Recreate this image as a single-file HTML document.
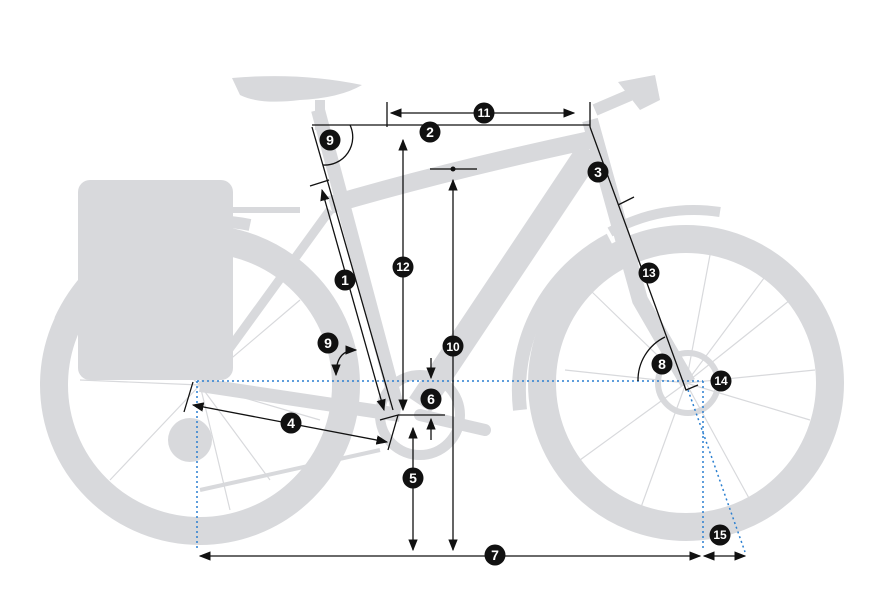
<!DOCTYPE html>
<html><head><meta charset="utf-8"><style>
html,body{margin:0;padding:0;background:#fff;width:886px;height:591px;overflow:hidden}
text{font-family:"Liberation Sans",sans-serif;font-weight:bold;fill:#fff;text-anchor:middle}
</style></head><body>
<svg width="886" height="591" viewBox="0 0 886 591" xmlns="http://www.w3.org/2000/svg">
<defs>
<marker id="a" viewBox="0 0 10 10" refX="9" refY="5" markerWidth="9" markerHeight="9" orient="auto-start-reverse"><path d="M0,1 L10,5 L0,9 z" fill="#111"/></marker>
</defs>
<g fill="none" stroke="#d8d9dc">
 <circle cx="200" cy="385" r="146" stroke-width="28"/>
 <circle cx="686" cy="383" r="144" stroke-width="28"/>
 <path d="M520,410 A170,170 0 0 1 610,240" stroke-width="14"/>
 <path d="M610,232 A170,170 0 0 1 720,212" stroke-width="10"/>
 <path d="M60,320 A170,170 0 0 1 250,225" stroke-width="12"/>
 <g stroke-width="1.2">
  <path d="M200,385 L90,290 M200,385 L110,480 M200,385 L230,510 M200,385 L300,300 M200,385 L80,380 M200,385 L320,420 M200,385 L170,250 M200,385 L270,480"/>
  <path d="M686,383 L590,290 M686,383 L580,460 M686,383 L710,255 M686,383 L790,300 M686,383 L810,420 M686,383 L750,500 M686,383 L640,510 M686,383 L565,370 M686,383 L815,370 M686,383 L770,270"/>
 </g>
 <path d="M330,205 Q450,170 590,140" stroke-width="18"/>
 <path d="M590,150 L420,405" stroke-width="26"/>
 <path d="M318,110 L398,410" stroke-width="14"/>
 <path d="M590,120 L640,300 L688,383" stroke-width="16"/>
 <path d="M400,415 L200,385" stroke-width="14"/>
 <path d="M330,210 L203,385" stroke-width="9"/>
 <path d="M205,210 L300,210" stroke-width="6"/>
 <path d="M320,100 L320,130" stroke-width="10"/>
 <path d="M595,110 L630,95" stroke-width="12"/>
 <circle cx="420" cy="415" r="40" stroke-width="10"/>
 <path d="M420,415 L485,430" stroke-width="12" stroke-linecap="round"/>
 <path d="M380,450 L200,490" stroke-width="4"/>
</g>
<g fill="#d8d9dc">
 <path d="M232,78 Q300,72 362,85 Q340,98 300,100 Q260,105 240,95 z"/>
 <path d="M618,82 L655,75 L660,100 L640,110 z"/>
 <rect x="78" y="180" width="155" height="200" rx="12"/>
 <circle cx="688" cy="383" r="30" fill="none" stroke="#d8d9dc" stroke-width="6"/>
 <circle cx="190" cy="440" r="22"/>
</g>
<g stroke="#2a7fd0" stroke-width="1.5" stroke-dasharray="2,3" fill="none">
 <path d="M197,381 L703,381 M197,381 L197,550 M703,381 L703,550 M688,390 L745,552"/>
</g>
<g stroke="#111" stroke-width="1.3" fill="none">
 <path d="M312,125 L590,125"/>
 <path d="M387,102 L387,127 M590,102 L590,127"/>
 <path d="M391,113 L574,113" marker-start="url(#a)" marker-end="url(#a)"/>
 <path d="M312,127 L393,410"/>
 <path d="M322,190 L384,410" marker-start="url(#a)" marker-end="url(#a)"/>
 <path d="M310,186 L329,180"/>
 <path d="M590,127 L686,390 L698,385"/>
 <path d="M618,205 L634,197"/>
 <path d="M403,140 L403,410" marker-start="url(#a)" marker-end="url(#a)"/>
 <path d="M453,180 L453,550" marker-start="url(#a)" marker-end="url(#a)"/>
 <path d="M430,169 L477,169" stroke="#555" stroke-width="2"/>
 <path d="M413,428 L413,550" marker-start="url(#a)" marker-end="url(#a)"/>
 <path d="M398,415 L445,415 M380,420 L398,415 L388,450"/>
 <path d="M431,358 L431,378" marker-end="url(#a)"/>
 <path d="M431,440 L431,419" marker-end="url(#a)"/>
 <path d="M193,405 L387,442" marker-start="url(#a)" marker-end="url(#a)"/>
 <path d="M193,382 L184,412"/>
 <path d="M200,556 L700,556" marker-start="url(#a)" marker-end="url(#a)"/>
 <path d="M704,556 L745,556" marker-start="url(#a)" marker-end="url(#a)"/>
 <path d="M350,125 A28,28 0 0 1 323,165"/>
 <path d="M665,337 A48,48 0 0 0 638,381"/>
 <path d="M336,375 Q336,350 356,350" marker-start="url(#a)" marker-end="url(#a)"/>
</g>
<circle cx="453" cy="169" r="2.5" fill="#111"/>
<g fill="#111">
 <circle cx="345" cy="280" r="10.5"/><circle cx="430" cy="132" r="10.5"/><circle cx="598" cy="172" r="10.5"/>
 <circle cx="291" cy="423" r="10.5"/><circle cx="413" cy="478" r="10.5"/><circle cx="431" cy="399" r="10.5"/>
 <circle cx="495" cy="555" r="10.5"/><circle cx="662" cy="364" r="10.5"/><circle cx="330" cy="140" r="10.5"/>
 <circle cx="328" cy="343" r="10.5"/><circle cx="453" cy="346" r="10.5"/><circle cx="484" cy="113" r="10.5"/>
 <circle cx="403" cy="267" r="10.5"/><circle cx="649" cy="273" r="10.5"/><circle cx="721" cy="381" r="10.5"/>
 <circle cx="720" cy="535" r="10.5"/>
</g>
<g font-size="14">
 <text x="345" y="285">1</text><text x="430" y="137">2</text><text x="598" y="177">3</text>
 <text x="291" y="428">4</text><text x="413" y="483">5</text><text x="431" y="404">6</text>
 <text x="495" y="560">7</text><text x="662" y="369">8</text><text x="330" y="145">9</text>
 <text x="328" y="348">9</text><text x="453" y="351" font-size="12">10</text><text x="484" y="117" font-size="12">11</text>
 <text x="403" y="271" font-size="12">12</text><text x="649" y="277" font-size="12">13</text><text x="721" y="385" font-size="12">14</text>
 <text x="720" y="539" font-size="12">15</text>
</g>
</svg>
</body></html>
